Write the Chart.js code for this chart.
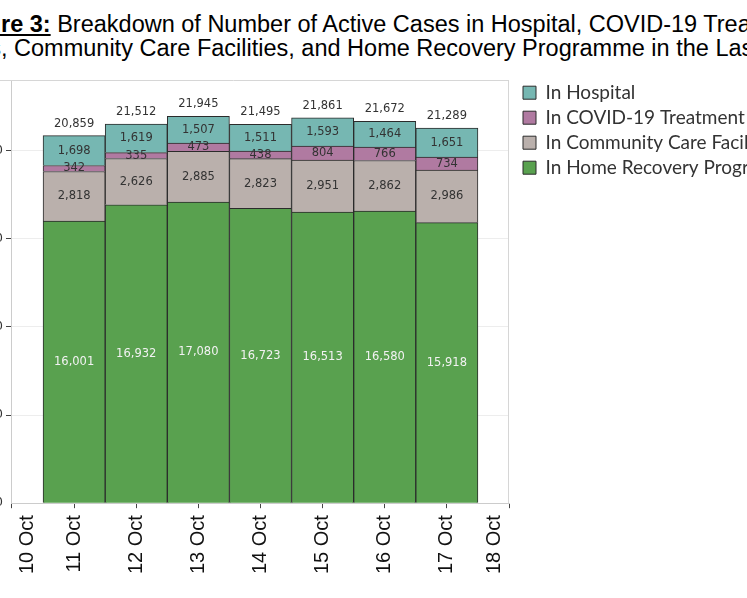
<!DOCTYPE html>
<html>
<head>
<meta charset="utf-8">
<script src="https://cdn.jsdelivr.net/npm/chart.js@4.4.1/dist/chart.umd.min.js"></script>
<style>
  html, body { margin: 0; padding: 0; background: #fff; width: 747px; height: 598px; overflow: hidden; }
  .title { position: absolute; white-space: nowrap; font-family: "Liberation Sans", Arial, sans-serif; font-size: 23.5px; line-height: 27px; color: #000; }
  .title u { font-weight: bold; }
  #wrap { position: absolute; left: 0; top: 0; }
</style>
</head>
<body>
<div class="title" id="t1"><u><span id="c1">Figu</span>re 3:</u> Breakdown of Number of Active Cases in Hospital, COVID-19 Treatment</div>
<div class="title" id="t2"><span id="c2">Facilities</span>, Community Care Facilities, and Home Recovery Programme in the Last 28 Days</div>
<div id="wrap"><canvas id="chart" width="900" height="530"></canvas></div>
<script>
// days on the x axis (10 Oct and 18 Oct are empty edges)
const dayLabels = ['10 Oct', '11 Oct', '12 Oct', '13 Oct', '14 Oct', '15 Oct', '16 Oct', '17 Oct', '18 Oct'];
const homeRecovery = [null, 16001, 16932, 17080, 16723, 16513, 16580, 15918, null];
const communityCare = [null, 2818, 2626, 2885, 2823, 2951, 2862, 2986, null];
const treatmentFacilities = [null, 342, 335, 473, 438, 804, 766, 734, null];
const hospital = [null, 1698, 1619, 1507, 1511, 1593, 1464, 1651, null];
const yTicks = [0, 5000, 10000, 15000, 20000];

const totals = dayLabels.map((d, i) =>
    hospital[i] == null ? null : homeRecovery[i] + communityCare[i] + treatmentFacilities[i] + hospital[i]);

const fmt = v => v.toLocaleString('en-US');

// value in the middle of every segment, total above each bar
const barLabels = {
    id: 'barLabels',
    afterDatasetsDraw(chart) {
        const {ctx} = chart;
        ctx.save();
        ctx.font = '11.5px "DejaVu Sans"';
        ctx.textAlign = 'center';
        ctx.textBaseline = 'middle';
        chart.data.datasets.forEach((ds, di) => {
            chart.getDatasetMeta(di).data.forEach((bar, i) => {
                const v = ds.data[i];
                if (v == null) return;
                const {x, y, base} = bar.getProps(['x', 'y', 'base'], true);
                ctx.fillStyle = ds.labelColor;
                ctx.fillText(fmt(v), x, (y + base) / 2);
            });
        });
        const top = chart.getDatasetMeta(chart.data.datasets.length - 1);
        ctx.fillStyle = '#333';
        top.data.forEach((bar, i) => {
            if (totals[i] == null) return;
            ctx.fillText(fmt(totals[i]), bar.x, bar.y - 12);
        });
        ctx.restore();
    }
};

// light frame on top and right of the pane
const paneFrame = {
    id: 'paneFrame',
    beforeDatasetsDraw(chart) {
        const {ctx, chartArea: a} = chart;
        ctx.save();
        ctx.strokeStyle = '#d6d6d6';
        ctx.lineWidth = 1;
        ctx.beginPath();
        ctx.moveTo(0, Math.round(a.top) + 0.5);
        ctx.lineTo(a.right, Math.round(a.top) + 0.5);
        ctx.moveTo(Math.round(a.right) - 0.5, a.top);
        ctx.lineTo(Math.round(a.right) - 0.5, a.bottom);
        ctx.stroke();
        ctx.restore();
    }
};

// x labels, kept inside the pane at both ends
const dayTickLabels = {
    id: 'dayTickLabels',
    afterDraw(chart) {
        const xs = chart.scales.x;
        const {ctx} = chart;
        ctx.save();
        ctx.font = '20px "Liberation Sans"';
        ctx.fillStyle = '#111';
        ctx.textAlign = 'right';
        ctx.textBaseline = 'middle';
        xs.ticks.forEach((t, i) => {
            const px = Math.min(Math.max(xs.getPixelForTick(i), xs.left + 15), xs.right - 15);
            ctx.save();
            ctx.translate(px, xs.top + 12);
            ctx.rotate(-Math.PI / 2);
            ctx.fillText(dayLabels[i], 0, 0);
            ctx.restore();
        });
        ctx.restore();
    }
};

// small gap between the pane and the legend
const legendGap = {
    id: 'legendGap',
    afterLayout(chart) {
        chart.legend.left += 8;
        chart.legend.right += 8;
        chart.legend.top -= 3;
        chart.legend.bottom -= 3;
    }
};

const chart = new Chart(document.getElementById('chart'), {
    type: 'bar',
    data: {
        labels: dayLabels,
        datasets: [
            {
                label: 'In Home Recovery Programme',
                data: homeRecovery,
                backgroundColor: '#59a14f',
                labelColor: '#f2f2f2',
            },
            {
                label: 'In Community Care Facilities',
                data: communityCare,
                backgroundColor: '#bab0ac',
                labelColor: '#333',
            },
            {
                label: 'In COVID-19 Treatment Facilities',
                data: treatmentFacilities,
                backgroundColor: '#b07aa1',
                labelColor: '#333',
            },
            {
                label: 'In Hospital',
                data: hospital,
                backgroundColor: '#76b7b2',
                labelColor: '#333',
            },
        ],
    },
    options: {
        responsive: false,
        maintainAspectRatio: false,
        animation: false,
        datasets: {
            bar: {
                borderColor: '#2b2b2b',
                borderWidth: 1,
                barPercentage: 1,
                categoryPercentage: 1,
            }
        },
        layout: {padding: {top: 0, right: 0, bottom: 12, left: 0}},
        scales: {
            x: {
                stacked: true,
                offset: false,
                grid: {offset: false, drawOnChartArea: false, tickLength: 5, tickColor: '#444'},
                border: {color: '#cccccc', width: 1},
                ticks: {
                    autoSkip: false,
                    minRotation: 90,
                    maxRotation: 90,
                    padding: 6,
                    color: 'rgba(0,0,0,0)',
                    font: {family: 'Liberation Sans', size: 20},
                },
            },
            y: {
                stacked: true,
                min: 0,
                max: 24000,
                afterBuildTicks: scale => {
                    scale.ticks = yTicks.map(v => ({value: v}));
                },
                grid: {
                    color: '#ededed',
                    tickLength: 6,
                    tickColor: ctx => ctx.tick && ctx.tick.value === 0 ? 'rgba(0,0,0,0)' : '#444',
                },
                border: {color: '#cccccc', width: 1},
                ticks: {
                    padding: 3,
                    color: '#333',
                    font: {family: 'DejaVu Sans', size: 12},
                    callback: v => fmt(v),
                },
            },
        },
        plugins: {
            legend: {
                position: 'right',
                align: 'start',
                fullSize: false,
                reverse: true,
                maxWidth: 240,
                labels: {
                    boxWidth: 13,
                    boxHeight: 13,
                    padding: 6,
                    color: '#333',
                    font: {family: 'Lato', size: 19},
                },
            },
            tooltip: {enabled: false},
        },
    },
    plugins: [paneFrame, barLabels, dayTickLabels, legendGap],
});

// size the canvas so the pane is 497 x 423 and put it at (12, 80)
const wrap = document.getElementById('wrap');
const a = Object.assign({}, chart.chartArea);
chart.resize(chart.width + 497 - (a.right - a.left), chart.height + 423 - (a.bottom - a.top));
const b = chart.chartArea;
wrap.style.left = (12 - b.left) + 'px';
wrap.style.top = (80 - b.top) + 'px';

// title lines are cut at the left edge of the picture
const t1 = document.getElementById('t1');
const t2 = document.getElementById('t2');
t1.style.left = (1 - document.getElementById('c1').getBoundingClientRect().width) + 'px';
t1.style.top = '11px';
t2.style.left = (1 - document.getElementById('c2').getBoundingClientRect().width) + 'px';
t2.style.top = '35px';
</script>
</body>
</html>
